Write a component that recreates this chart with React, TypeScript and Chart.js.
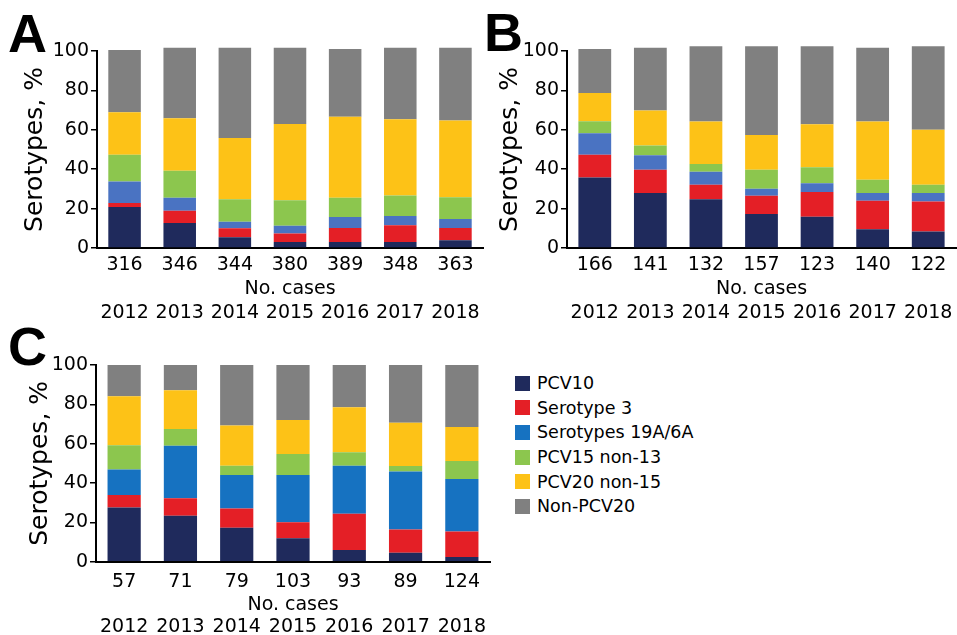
import React, { useEffect, useRef } from 'react';
import { Chart, registerables } from 'chart.js';
Chart.register(...registerables);

const years = ['2012', '2013', '2014', '2015', '2016', '2017', '2018'];
const seriesNames = ['PCV10', 'Serotype 3', 'Serotypes 19A/6A', 'PCV15 non-13', 'PCV20 non-15', 'Non-PCV20'];

const casesA = ['316', '346', '344', '380', '389', '348', '363'];
const casesB = ['166', '141', '132', '157', '123', '140', '122'];
const casesC = ['57', '71', '79', '103', '93', '89', '124'];

// Panel A (%)
const aPCV10 = [20.8, 12.7, 5.4, 3.0, 3.0, 3.0, 3.9];
const aSer3 = [2.0, 6.2, 4.6, 4.4, 7.1, 8.5, 6.2];
const a19A6A = [11.0, 6.6, 3.3, 3.9, 5.6, 4.7, 4.6];
const aPCV15 = [13.5, 13.7, 11.5, 13.0, 9.8, 10.5, 11.0];
const aPCV20 = [21.6, 26.7, 31.1, 38.7, 41.1, 38.7, 39.0];
const aNon = [31.6, 35.8, 45.8, 38.7, 34.4, 36.3, 37.0];

// Panel B (%)
const bPCV10 = [35.8, 27.9, 24.8, 17.2, 15.9, 9.5, 8.4];
const bSer3 = [11.5, 11.8, 7.3, 9.3, 12.5, 14.5, 15.2];
const b19A6A = [11.0, 7.4, 6.6, 3.6, 4.5, 3.9, 4.3];
const bPCV15 = [6.1, 4.9, 4.0, 9.6, 8.1, 6.7, 4.2];
const bPCV20 = [14.3, 17.8, 21.5, 17.7, 21.8, 29.6, 27.9];
const bNon = [22.3, 31.9, 38.2, 45.0, 39.6, 37.5, 42.4];

// Panel C (%)
const cPCV10 = [27.6, 23.4, 17.3, 11.9, 5.9, 4.6, 2.4];
const cSer3 = [6.3, 8.8, 9.8, 8.1, 18.5, 11.8, 12.9];
const c19A6A = [13.0, 26.8, 17.0, 24.1, 24.4, 29.4, 26.7];
const cPCV15 = [12.3, 8.5, 4.7, 10.6, 6.8, 2.8, 9.2];
const cPCV20 = [24.9, 19.6, 20.5, 17.3, 22.9, 22.1, 17.3];
const cNon = [15.9, 12.9, 30.7, 28.0, 21.5, 29.3, 31.5];

const NAVY = '#1f2a5c';
const RED = '#e41f26';
const BLUE_AB = '#4a73c2';
const BLUE_C = '#1672c1';
const GREEN = '#8cc64e';
const YELLOW = '#fdc217';
const GRAY = '#808080';

const FONT = "'DejaVu Sans', Verdana, sans-serif";
const TICK_SIZE = 19;

type Geo = {
  left: number; top: number; w: number; h: number;
  padTop: number; padRight: number; padBottom: number;
  yW: number; yTitlePad: number; xTickPad: number; xH: number; x2Pad: number; x2H: number;
};

function Panel(props: { cases: string[]; series: number[][]; blue: string; geo: Geo }) {
  const ref = useRef<HTMLCanvasElement>(null);
  const { cases, series, blue, geo } = props;
  useEffect(() => {
    if (!ref.current) return;
    const colors = [NAVY, RED, blue, GREEN, YELLOW, GRAY];
    const chart = new Chart(ref.current, {
      type: 'bar',
      data: {
        labels: cases,
        datasets: series.map((d, i) => ({
          label: seriesNames[i],
          data: d,
          backgroundColor: colors[i],
          borderWidth: 0,
          categoryPercentage: 1,
          barPercentage: 0.59,
          clip: false as any,
        })),
      },
      options: {
        animation: false,
        responsive: false,
        devicePixelRatio: 1,
        layout: { padding: { top: geo.padTop, left: 0, right: geo.padRight, bottom: geo.padBottom } },
        plugins: { legend: { display: false }, tooltip: { enabled: false } },
        scales: {
          x: {
            stacked: true,
            position: 'bottom',
            weight: 0,
            offset: true,
            grid: { display: false, drawTicks: false },
            border: { display: true, color: '#000', width: 2 },
            ticks: { color: '#000', font: { family: FONT, size: TICK_SIZE }, padding: geo.xTickPad, maxRotation: 0, autoSkip: false },
            title: { display: true, text: 'No. cases', color: '#000', font: { family: FONT, size: TICK_SIZE }, padding: { top: 0, bottom: 0 } },
            afterFit: (s: any) => { s.height = geo.xH; s.paddingLeft = 0; s.paddingRight = 0; s.paddingTop = 0; s.paddingBottom = 0; },
          },
          x2: {
            type: 'category',
            labels: years,
            position: 'bottom',
            weight: 1,
            offset: true,
            grid: { display: false, drawTicks: false },
            border: { display: false },
            ticks: { color: '#000', font: { family: FONT, size: TICK_SIZE }, padding: geo.x2Pad, maxRotation: 0, autoSkip: false },
            afterFit: (s: any) => { s.height = geo.x2H; s.paddingLeft = 0; s.paddingRight = 0; s.paddingTop = 0; s.paddingBottom = 0; },
          },
          y: {
            stacked: true,
            min: 0,
            max: 100,
            ticks: { stepSize: 20, color: '#000', font: { family: FONT, size: TICK_SIZE }, padding: 2 },
            grid: { drawOnChartArea: false, color: '#000', tickLength: 6, lineWidth: 1.5 },
            border: { display: true, color: '#000', width: 2 },
            title: { display: true, text: 'Serotypes, %', color: '#000', font: { family: FONT, size: 25 }, padding: { top: geo.yTitlePad, bottom: 0 } },
            afterFit: (s: any) => { s.width = geo.yW; s.paddingTop = 0; s.paddingBottom = 0; s.paddingLeft = 0; s.paddingRight = 0; },
          },
        } as any,
      },
    });
    return () => chart.destroy();
  }, []);
  return (
    <canvas
      ref={ref}
      width={geo.w}
      height={geo.h}
      style={{ position: 'absolute', left: geo.left, top: geo.top, width: geo.w, height: geo.h }}
    />
  );
}

const geoA: Geo = { left: 0, top: 0, w: 485, h: 330, padTop: 51, padRight: 2, padBottom: 2, yW: 97, yTitlePad: 20, xTickPad: 5.6, xH: 52.4, x2Pad: 1.1, x2H: 27.6 };
const geoB: Geo = { left: 480, top: 0, w: 477, h: 330, padTop: 51, padRight: 1, padBottom: 2, yW: 87, yTitlePad: 15, xTickPad: 5.6, xH: 52.4, x2Pad: 1.1, x2H: 27.6 };
const geoC: Geo = { left: 0, top: 330, w: 495, h: 305, padTop: 35, padRight: 5, padBottom: 0, yW: 96, yTitlePad: 25, xTickPad: 8.9, xH: 54.4, x2Pad: 0, x2H: 18.9 };

const legendColors = [NAVY, RED, BLUE_C, GREEN, YELLOW, GRAY];

const letterStyle: React.CSSProperties = {
  position: 'absolute',
  fontFamily: "'Liberation Sans', Arial, sans-serif",
  fontWeight: 'bold',
  fontSize: 54,
  lineHeight: 1,
  color: '#000',
};

export default function App() {
  return (
    <div style={{ position: 'absolute', left: 0, top: 0, width: 957, height: 635, background: '#fff', overflow: 'hidden' }}>
      <Panel cases={casesA} series={[aPCV10, aSer3, a19A6A, aPCV15, aPCV20, aNon]} blue={BLUE_AB} geo={geoA} />
      <Panel cases={casesB} series={[bPCV10, bSer3, b19A6A, bPCV15, bPCV20, bNon]} blue={BLUE_AB} geo={geoB} />
      <Panel cases={casesC} series={[cPCV10, cSer3, c19A6A, cPCV15, cPCV20, cNon]} blue={BLUE_C} geo={geoC} />
      <div style={{ ...letterStyle, left: 8, top: 6 }}>A</div>
      <div style={{ ...letterStyle, left: 484, top: 5 }}>B</div>
      <div style={{ ...letterStyle, left: 8, top: 319 }}>C</div>
      <div style={{ position: 'absolute', left: 515, top: 371, fontFamily: FONT, fontSize: 17.5, color: '#000' }}>
        {seriesNames.map((n, i) => (
          <div key={n} style={{ display: 'flex', alignItems: 'center', height: 24.6 }}>
            <span style={{ display: 'inline-block', width: 15, height: 15, background: legendColors[i], marginRight: 7 }} />
            <span>{n}</span>
          </div>
        ))}
      </div>
    </div>
  );
}
